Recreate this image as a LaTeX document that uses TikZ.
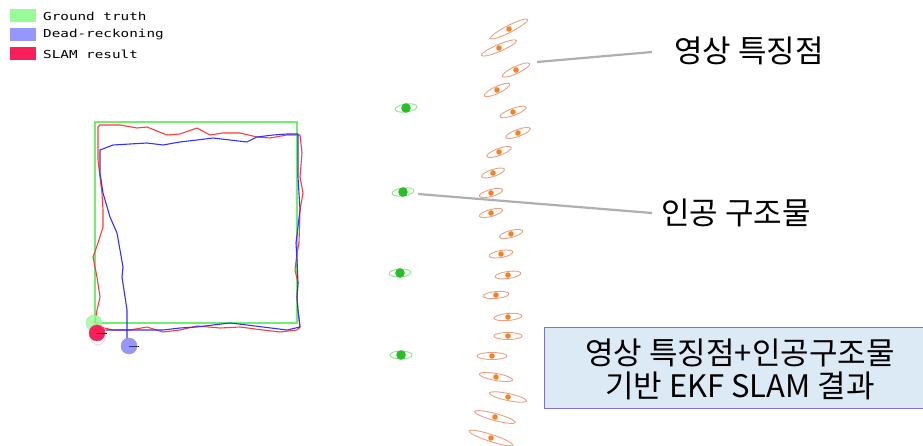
\documentclass[tikz,border=0pt]{standalone}
\usepackage{fontspec}
\setmainfont{DejaVu Sans}
\newfontfamily\kr{Noto Sans CJK KR}
\newfontfamily\pix{DejaVu Sans Mono}
\usetikzlibrary{shapes.geometric}
\definecolor{gtgreen}{RGB}{110,240,110}
\definecolor{legg}{RGB}{152,251,152}
\definecolor{legb}{RGB}{150,150,255}
\definecolor{legr}{RGB}{250,30,90}
\definecolor{slamred}{RGB}{255,60,60}
\definecolor{drblue}{RGB}{50,50,255}
\definecolor{featorange}{RGB}{240,130,40}
\definecolor{featedge}{RGB}{235,160,130}
\definecolor{lmgreen}{RGB}{40,190,40}
\definecolor{lmedge}{RGB}{150,230,150}
\definecolor{boxfill}{RGB}{220,234,246}
\definecolor{boxedge}{RGB}{125,115,205}
\definecolor{leadgray}{RGB}{175,175,175}
\tikzset{
  feat/.style={ellipse, draw=featedge, line width=0.9pt, minimum height=7pt, inner sep=0pt},
  lmark/.style={ellipse, draw=lmedge, line width=1pt, minimum width=22pt, minimum height=8pt, inner sep=0pt},
  legsq/.style={rectangle, minimum width=26pt, minimum height=13pt, inner sep=0pt},
  legtxt/.style={anchor=west, inner sep=0pt, font=\pix\fontsize{11}{12}\selectfont},
  lead/.style={draw=leadgray, line width=2.2pt},
  biglabel/.style={anchor=west, inner sep=0pt, font=\kr\fontsize{31}{33}\selectfont},
}
\begin{document}
\begin{tikzpicture}[x=1pt,y=1pt]
\useasboundingbox (0,0) rectangle (923,-446);
% legend
\node[legsq, fill=legg] (lg1) at (23,-16) {};
\node[legsq, fill=legb] (lg2) at (23,-35) {};
\node[legsq, fill=legr] (lg3) at (23,-54) {};
\node[legtxt] (lt1) at (43,-16) {\scalebox{1.3}[1]{Ground truth}};
\node[legtxt] (lt2) at (43,-35) {\scalebox{1.3}[1]{Dead-reckoning}};
\node[legtxt] (lt3) at (43,-54) {\scalebox{1.3}[1]{SLAM result}};
% ground truth
\draw[gtgreen, line width=1.5pt] (95,-122) rectangle (297,-323);
% SLAM result
\draw[slamred, line width=1.1pt, line join=round]
 (98,-127) -- (100,-125) -- (120,-125) -- (137,-128) -- (147,-127) -- (167,-135) -- (180,-134) -- (197,-128) -- (210,-135) -- (223,-133) -- (240,-133) -- (257,-137) -- (270,-138) -- (287,-135) -- (300,-135)
 -- (302,-153) -- (300,-177) -- (303,-193) -- (300,-210) -- (299,-243) -- (297,-253) -- (295,-270) -- (298,-283) -- (297,-297) -- (298,-310) -- (300,-327) -- (297,-330)
 -- (280,-332) -- (263,-330) -- (240,-327) -- (220,-328) -- (197,-326) -- (180,-330) -- (163,-332) -- (147,-327) -- (130,-330) -- (113,-330) -- (100,-327) -- (95,-323)
 -- (97,-310) -- (100,-297) -- (97,-277) -- (93,-257) -- (98,-243) -- (103,-227) -- (103,-210) -- (102,-193) -- (100,-177) -- (98,-160) -- (98,-140) -- cycle;
% dead reckoning
\draw[drblue, line width=1.1pt, line join=round]
 (127,-346) -- (127,-330) -- (127,-310) -- (122,-277) -- (123,-267) -- (120,-250) -- (117,-233) -- (110,-217) -- (103,-193) -- (100,-173) -- (100,-150) -- (113,-145) -- (147,-143) -- (163,-145) -- (180,-142) -- (197,-140) -- (213,-138) -- (230,-140) -- (247,-142) -- (257,-137) -- (273,-135) -- (287,-134) -- (298,-134)
 -- (298,-177) -- (300,-210) -- (296,-243) -- (297,-260) -- (298,-283) -- (297,-297) -- (298,-310) -- (300,-327)
 -- (287,-330) -- (263,-327) -- (247,-325) -- (230,-323) -- (213,-325) -- (197,-327) -- (180,-328) -- (163,-330) -- (147,-330) -- (130,-330) -- (113,-330) -- (102,-330);
% robot poses
\node[circle, fill=legg, draw=lmgreen!40, opacity=0.8, minimum size=16pt, inner sep=0pt] (gtpose) at (94,-323) {};
\node[ellipse, draw=legr!35, minimum width=16pt, minimum height=22pt, inner sep=0pt] (slamcov) at (98,-334) {};
\node[circle, fill=legr, draw=legr!60!gray, minimum size=16pt, inner sep=0pt] (slampose) at (97,-333) {};
\draw[black, line width=0.8pt] (slampose.center) -- (slampose.east) -- ++(2,0);
\node[circle, fill=legb, draw=gray!80, minimum size=16pt, inner sep=0pt] (drpose) at (129,-346) {};
\draw[black, line width=0.8pt] (drpose.center) -- (drpose.east) -- ++(2,0);
% artificial landmarks
\foreach \x/\y/\a [count=\i] in {406/108/8, 403/192/8, 400/273/3, 401/355/0} {
  \node[lmark, rotate=\a] (lm\i) at (\x,-\y) {};
  \fill[lmgreen] (lm\i.center) circle (4.8pt);
}
% image features
\foreach \x/\y/\a/\r [count=\i] in {509/29/27/21, 499/48/23/19, 516/70/25/15, 497/90/25/14, 513/112/20/14, 518/133/20/13, 499/152/20/13, 493/173/18/12, 491/193/15/12, 491/213/15/12, 511/234/15/12, 501/254/10/12, 508/275/8/13, 496/295/5/13, 508/317/5/14, 508/336/0/14, 492/356/0/15, 496/377/-10/17, 508/397/-12/19, 495/417/-15/21, 491/438/-18/23} {
  \node[feat, rotate=\a, minimum width=2*\r pt] (f\i) at (\x,-\y) {};
  \fill[featorange] (f\i.center) circle (2.8pt);
}
% labels and leaders
\coordinate (c1) at (537,-62);
\coordinate (c1e) at (652,-52);
\coordinate (c2) at (418,-194);
\coordinate (c2e) at (652,-213);
\draw[lead] (c1) -- (c1e);
\draw[lead] (c2) -- (c2e);
\node[biglabel] (lab1) at (674,-51) {영상 특징점};
\node[biglabel] (lab2) at (661,-213) {인공 구조물};
% result box
\node[draw=boxedge, line width=1.2pt, fill=boxfill, minimum width=382pt, minimum height=81pt, anchor=north west, inner sep=0pt] (box) at (544,-327) {};
\node[align=center, font=\kr\fontsize{31}{33}\selectfont, inner sep=0pt] (boxtxt) at (740,-369) {영상 특징점+인공구조물\\기반 EKF SLAM 결과};
\end{tikzpicture}
\end{document}
